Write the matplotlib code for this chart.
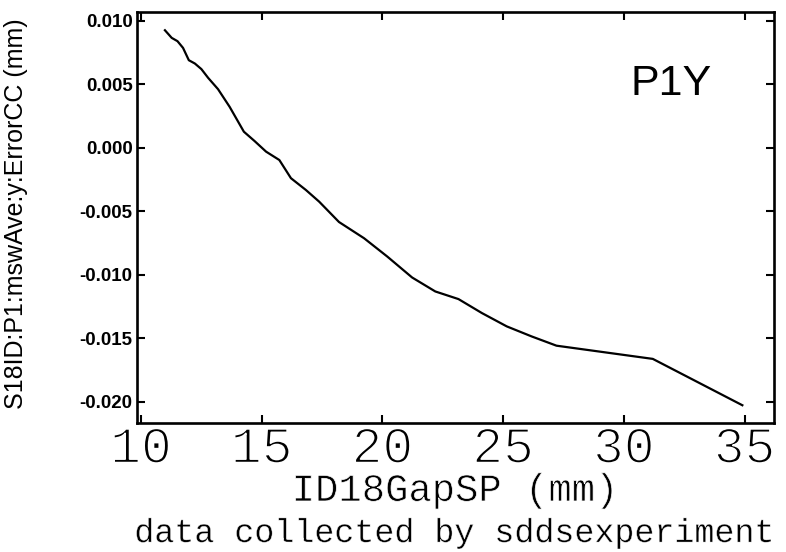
import matplotlib
matplotlib.use("Agg")
import matplotlib.pyplot as plt
from matplotlib import patheffects

# Values.
gap_mm = [10.99, 11.27, 11.51, 11.74, 11.98, 12.23, 12.50, 12.78, 13.19,
          13.67, 14.26, 14.70, 15.18, 15.73, 16.21, 16.83, 17.38, 18.20,
          19.24, 20.20, 21.23, 22.19, 23.15, 24.12, 25.15, 26.18, 27.21,
          31.20, 34.91]
error_mm = [0.00925, 0.00865, 0.00839, 0.00786, 0.00689, 0.00663, 0.00619,
            0.00550, 0.00461, 0.00322, 0.00126, 0.00053, -0.00031, -0.00097,
            -0.00240, -0.00333, -0.00425, -0.00585, -0.00713, -0.00857,
            -0.01022, -0.01132, -0.01192, -0.01302, -0.01407, -0.01486,
            -0.01559, -0.01663, -0.02028]
x_ticks = [10, 15, 20, 25, 30, 35]
y_ticks = [0.010, 0.005, 0.000, -0.005, -0.010, -0.015, -0.020]

x_label = "ID18GapSP (mm)"
y_label = "S18ID:P1:mswAve:y:ErrorCC (mm)"
tag = "P1Y"
footnote = "data collected by sddsexperiment"

MONO = ["Liberation Mono", "DejaVu Sans Mono"]
SANS = ["Liberation Sans", "DejaVu Sans"]

plt.rcParams["axes.unicode_minus"] = False

fig = plt.figure(figsize=(7.86, 5.52), dpi=100)
ax = fig.add_axes([0.1739, 0.2332, 0.9847 - 0.1739, 0.9788 - 0.2332])

ax.plot(gap_mm, error_mm, color="black", linewidth=1.6)

ax.set_xlim(9.82, 36.22)
ax.set_ylim(-0.0217, 0.01071)
for side in ax.spines.values():
    side.set_linewidth(1.9)

ax.set_xticks(x_ticks)
ax.set_xticklabels([str(v) for v in x_ticks])
ax.set_yticks(y_ticks)
ax.set_yticklabels([f"{v:.3f}" for v in y_ticks])
ax.tick_params(direction="in", length=6, width=1.5,
               top=True, right=True, bottom=True, left=True)
ax.tick_params(axis="x", pad=1)
ax.tick_params(axis="y", pad=3)


# thin stroke look for the big mono labels: erode glyphs with a white outline
def thin(width):
    return [patheffects.Stroke(linewidth=width, foreground="white")]


for lab in ax.get_xticklabels():
    lab.set_fontfamily(MONO)
    lab.set_fontsize(37)
    lab.set_path_effects(thin(1.3))
for lab in ax.get_yticklabels():
    lab.set_fontfamily(SANS)
    lab.set_fontweight("bold")
    lab.set_fontsize(13.5)

ax.set_xlabel(x_label, fontfamily=MONO, fontsize=28,
              va="baseline", path_effects=thin(0.5))
ax.xaxis.set_label_coords(0.5, -0.1888)
ax.set_ylabel(y_label, fontfamily=SANS, fontsize=18, va="center")
ax.yaxis.set_label_coords(-0.1894, 0.51)

ax.text(0.839, 0.825, tag, transform=ax.transAxes, ha="center", va="center",
        fontsize=31, fontfamily=SANS)

fig.text(0.578, 0.018, footnote, ha="center", va="baseline",
         fontfamily=MONO, fontsize=24, path_effects=thin(0.3))

fig.savefig("out.png", dpi=100)
